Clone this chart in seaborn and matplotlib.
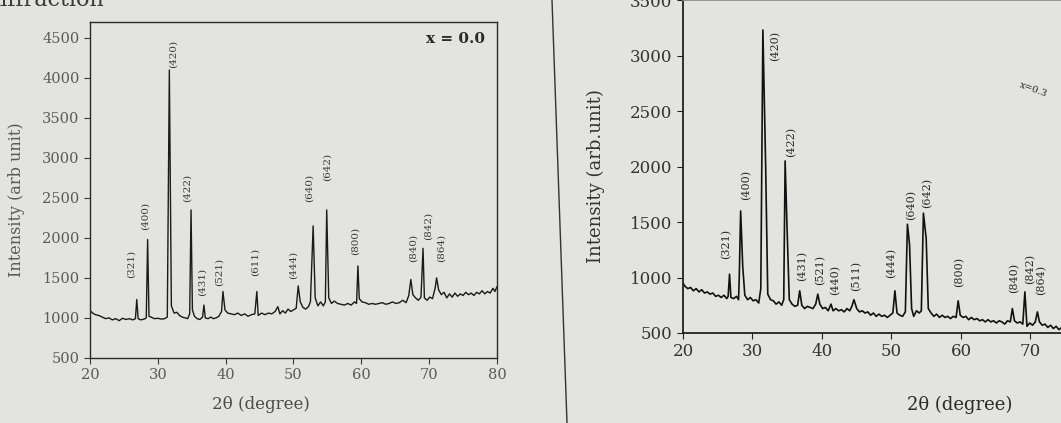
import matplotlib
matplotlib.use("Agg")
import matplotlib.pyplot as plt
from matplotlib.lines import Line2D
import seaborn as sns
import pandas as pd

# ---------------- data: x = 0.0 (left panel) ----------------
theta_a = [20.0, 20.4, 20.8, 21.3, 21.8, 22.3, 22.8, 23.3, 23.8, 24.3, 24.8, 25.3, 25.8, 26.3, 26.7,
           26.9, 27.1, 27.5, 28.0, 28.3, 28.5, 28.7, 29.0, 29.5, 30.0, 30.5, 31.0, 31.4, 31.7, 32.0,
           32.4, 32.8, 33.2, 33.6, 34.0, 34.4, 34.7, 34.9, 35.1, 35.4, 35.8, 36.2, 36.6, 36.8, 37.0,
           37.4, 37.8, 38.2, 38.6, 39.0, 39.4, 39.6, 39.9, 40.3, 40.8, 41.3, 41.8, 42.3, 42.8, 43.3,
           43.8, 44.3, 44.6, 44.8, 45.3, 45.8, 46.3, 46.8, 47.3, 47.7, 48.0, 48.4, 48.8, 49.2, 49.6,
           50.0, 50.4, 50.7, 51.0, 51.4, 51.8, 52.2, 52.5, 52.9, 53.2, 53.6, 54.0, 54.4, 54.7, 54.9,
           55.2, 55.6, 56.0, 56.5, 57.0, 57.5, 58.0, 58.5, 59.0, 59.3, 59.5, 59.7, 60.1, 60.6, 61.1,
           61.6, 62.1, 62.6, 63.1, 63.6, 64.1, 64.6, 65.1, 65.6, 66.1, 66.6, 67.0, 67.3, 67.6, 68.0,
           68.4, 68.8, 69.1, 69.3, 69.7, 70.1, 70.5, 70.9, 71.1, 71.4, 71.8, 72.2, 72.6, 73.0, 73.4,
           73.8, 74.2, 74.6, 75.0, 75.4, 75.8, 76.2, 76.6, 77.0, 77.4, 77.8, 78.2, 78.6, 79.0, 79.4,
           79.7, 80.0]
inten_a = [1090, 1060, 1040, 1030, 1010, 990, 1000, 975, 990, 965, 995, 980, 990, 975, 990,
           1230, 990, 975, 985, 1000, 1980, 1020, 1010, 990, 995, 985, 990, 1010, 4100, 1150,
           1060, 1070, 1030, 1010, 1000, 990, 1050, 2350, 1100, 1020, 990, 980, 1010, 1160, 1000,
           990, 1010, 990, 1000, 1020, 1080, 1330, 1100, 1060, 1050, 1040, 1060, 1030, 1050, 1020,
           1040, 1050, 1330, 1030, 1060, 1040, 1060, 1050, 1080, 1140, 1050, 1090, 1060, 1110, 1080,
           1100, 1120, 1400, 1200, 1130, 1110, 1140, 1200, 2150, 1250, 1150, 1200, 1150, 1200, 2350,
           1250, 1180, 1210, 1180, 1170, 1160, 1180, 1160, 1200, 1180, 1650, 1240, 1200, 1190, 1170,
           1180, 1170, 1180, 1190, 1170, 1180, 1200, 1180, 1190, 1220, 1190, 1280, 1480, 1290, 1250,
           1220, 1260, 1870, 1250, 1220, 1260, 1240, 1380, 1500, 1350, 1290, 1320, 1250, 1300, 1260,
           1310, 1270, 1300, 1280, 1320, 1290, 1310, 1280, 1320, 1300, 1340, 1300, 1330, 1310, 1370,
           1330, 1390]
labels_a = ["(321)", "(400)", "(420)", "(422)", "(431)", "(521)", "(611)", "(444)",
            "(640)", "(642)", "(800)", "(840)", "(842)", "(864)"]
label_x_a = [26.0, 28.2, 32.3, 34.4, 36.5, 39.0, 44.3, 49.9, 52.3, 54.9, 59.1, 67.6, 69.9, 71.7]
label_y_a = [1670, 2270, 4300, 2620, 1450, 1580, 1700, 1660, 2620, 2890, 1960, 1880, 2150, 1870]

# ---------------- data: x = 0.3 (right panel) ----------------
theta_b = [20.0, 20.3, 20.7, 21.1, 21.5, 21.9, 22.3, 22.7, 23.1, 23.5, 23.9, 24.3, 24.7, 25.1, 25.5,
           25.9, 26.3, 26.5, 26.7, 26.9, 27.3, 27.7, 28.0, 28.1, 28.3, 28.6, 28.9, 29.3, 29.7, 30.1,
           30.5, 30.9, 31.2, 31.5, 31.9, 32.2, 32.6, 33.0, 33.4, 33.8, 34.2, 34.5, 34.7, 35.0, 35.3,
           35.7, 36.1, 36.5, 36.8, 37.1, 37.5, 37.9, 38.3, 38.7, 39.1, 39.4, 39.7, 40.1, 40.5, 40.9,
           41.3, 41.6, 42.0, 42.4, 42.8, 43.2, 43.6, 44.0, 44.3, 44.6, 45.0, 45.4, 45.8, 46.2, 46.6,
           47.0, 47.4, 47.8, 48.2, 48.6, 49.0, 49.4, 49.8, 50.2, 50.5, 50.8, 51.2, 51.6, 52.0, 52.3,
           52.6, 52.9, 53.2, 53.6, 54.0, 54.3, 54.6, 55.0, 55.3, 55.7, 56.1, 56.5, 56.9, 57.3, 57.7,
           58.1, 58.5, 58.9, 59.3, 59.6, 59.9, 60.3, 60.7, 61.1, 61.5, 61.9, 62.3, 62.7, 63.1, 63.5,
           63.9, 64.3, 64.7, 65.1, 65.5, 65.9, 66.3, 66.7, 67.1, 67.4, 67.7, 68.1, 68.5, 68.9, 69.2,
           69.5, 69.9, 70.3, 70.7, 71.0, 71.3, 71.7, 72.1, 72.5, 72.9, 73.3, 73.7, 74.1, 74.5, 74.9,
           75.3, 75.7, 76.1, 76.5, 77.0]
inten_b = [950, 920, 900, 910, 880, 900, 870, 890, 860, 870, 850, 860, 830, 840, 820,
           840, 810, 830, 1030, 820, 810, 830, 800, 1000, 1600, 1100, 840, 800, 820, 790,
           800, 770, 900, 3230, 2000, 850, 800, 790, 760, 780, 750, 800, 2050, 1400, 800,
           760, 740, 750, 880, 750, 720, 740, 730, 720, 760, 850, 760, 720, 730, 700,
           760, 700, 720, 700, 710, 690, 720, 700, 740, 800, 720, 690, 700, 680, 690,
           660, 680, 650, 670, 650, 660, 640, 660, 680, 880, 680, 660, 650, 690, 1480,
           1300, 720, 650, 700, 680, 700, 1580, 1350, 720, 680, 650, 670, 640, 660, 640,
           650, 630, 650, 640, 790, 660, 640, 650, 620, 640, 620, 630, 610, 620, 600,
           620, 600, 610, 590, 610, 600, 580, 610, 600, 720, 610, 590, 600, 580, 870,
           560, 590, 570, 600, 690, 600, 570, 580, 550, 570, 540, 560, 530, 550, 520,
           540, 530, 560, 540, 560]
labels_b = ["(321)", "(400)", "(420)", "(422)", "(431)", "(521)", "(440)", "(511)",
            "(444)", "(640)", "(642)", "(800)", "(840)", "(842)", "(864)"]
label_x_b = [26.2, 29.1, 33.3, 35.6, 37.1, 39.8, 41.9, 45.0, 49.9, 52.9, 55.2, 59.7, 67.6, 69.9, 71.5]
label_y_b = [1300, 1830, 3090, 2220, 1100, 1070, 980, 1010, 1130, 1650, 1760, 1050, 1000, 1080, 980]

# ---------------- style ----------------
sns.set_theme(style="ticks")
plt.rcParams["font.family"] = ["DejaVu Serif", "DejaVu Sans"]
paper = "#e3e3e1"

fig = plt.figure(figsize=(10.61, 4.23), dpi=100, facecolor=paper)

# ---------- left panel ----------
axA = fig.add_axes([0.0848, 0.154, 0.3836, 0.794])
axA.set_facecolor("none")
dfa = pd.DataFrame({"theta": theta_a, "I": inten_a})
sns.lineplot(data=dfa, x="theta", y="I", ax=axA, color="#1a1a1a", linewidth=1.0, sort=False)
axA.set_xlim(20, 80)
axA.set_ylim(500, 4700)
axA.set_xticks(range(20, 81, 10))
axA.set_yticks(range(500, 4501, 500))
gray_txt = "#5a5a5a"
axA.tick_params(axis="both", direction="out", length=4, width=0.8, colors="#3a3a3a",
                labelsize=10.5, labelcolor=gray_txt)
for s in axA.spines.values():
    s.set_color("#2a2a2a")
    s.set_linewidth(1.0)
axA.set_xlabel("2θ (degree)", fontsize=12, color="#4a4a4a", va="center")
axA.set_ylabel("Intensity (arb unit)", fontsize=11.5, color=gray_txt)
axA.xaxis.set_label_coords(0.42, -0.14)
axA.yaxis.set_label_coords(-0.16, 0.47)
for lab, lx, ly in zip(labels_a, label_x_a, label_y_a):
    axA.text(lx, ly, lab, rotation=90, ha="center", va="center", fontsize=7.5, color="#3a3a3a")
axA.text(0.97, 0.97, "x = 0.0", transform=axA.transAxes, ha="right", va="top",
         fontsize=11, fontweight="bold", color="#2a2a2a")

# ---------- right panel ----------
axB = fig.add_axes([0.6437, 0.2128, 0.393, 0.787])
axB.set_facecolor("none")
dfb = pd.DataFrame({"theta": theta_b, "I": inten_b})
sns.lineplot(data=dfb, x="theta", y="I", ax=axB, color="#111111", linewidth=1.2, sort=False)
axB.set_xlim(20, 80)
axB.set_ylim(500, 3500)
axB.set_xticks(range(20, 71, 10))
axB.set_yticks(range(500, 3501, 500))
axB.tick_params(axis="both", direction="out", length=4, width=0.8, colors="#222222",
                labelsize=12, labelcolor="#333333")
axB.spines["right"].set_visible(False)
for s in ["left", "bottom", "top"]:
    axB.spines[s].set_color("#1a1a1a")
axB.spines["top"].set_color("#8a8a8a")
axB.set_xlabel("2θ (degree)", fontsize=13, color="#2a2a2a", va="center")
axB.set_ylabel("Intensity (arb.unit)", fontsize=13, color="#333333")
axB.xaxis.set_label_coords(0.664, -0.216)
axB.yaxis.set_label_coords(-0.187, 0.47)
for lab, lx, ly in zip(labels_b, label_x_b, label_y_b):
    axB.text(lx, ly, lab, rotation=90, ha="center", va="center", fontsize=8, color="#2a2a2a")
axB.text(0.84, 0.73, "x=0.3", transform=axB.transAxes, ha="center", va="center",
         fontsize=7, rotation=-20, color="#2a2a2a")

# page artefacts: gutter line and cut-off running text
fig.add_artist(Line2D([552 / 1061, 567 / 1061], [1.0, 0.0], transform=fig.transFigure,
                      color="#333333", linewidth=1.0))
fig.text(-0.012, 1.0, "diffraction", fontsize=16, color="#3a3a3a", ha="left", va="center")

fig.savefig("out.png", dpi=100, facecolor=paper)
